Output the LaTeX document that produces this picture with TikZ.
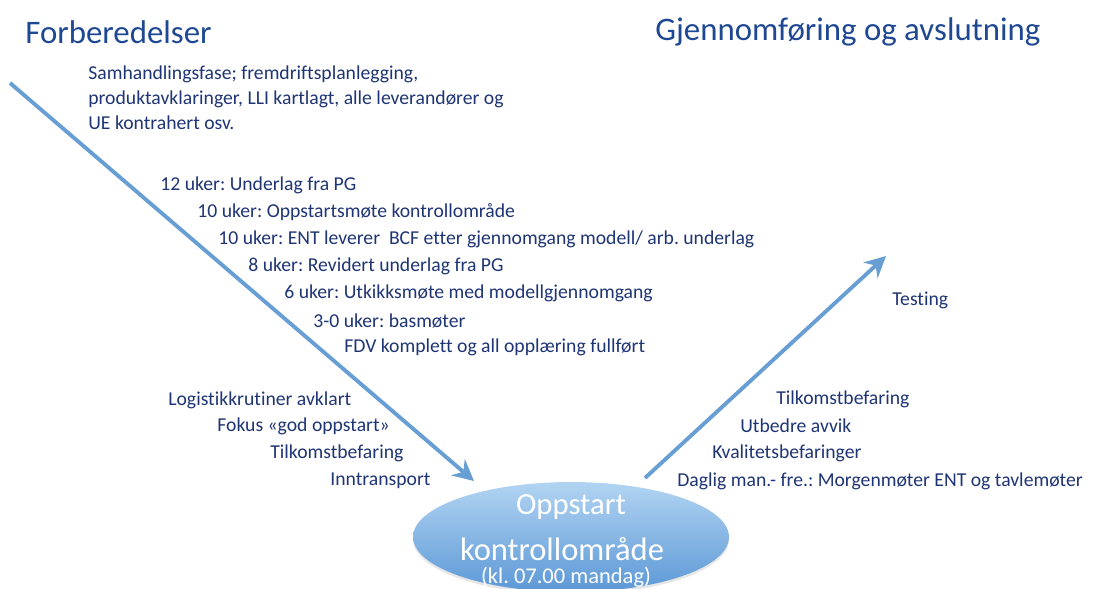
\documentclass[tikz,border=0pt]{standalone}
\usepackage{fontspec}
\setmainfont{Carlito}[Ligatures=NoCommon]
\usetikzlibrary{arrows.meta,positioning,shapes.geometric,shadows}
\definecolor{txtblue}{RGB}{30,52,116}
\definecolor{titleblue}{RGB}{31,72,148}
\definecolor{arrowblue}{RGB}{103,158,211}
\definecolor{ovaltop}{RGB}{178,212,242}
\definecolor{ovalbot}{RGB}{92,152,214}
\tikzset{
  heading/.style={anchor=west,text=titleblue,inner sep=0pt,
    font=\fontsize{18.7}{22}\selectfont},
  item/.style={anchor=west,text=txtblue,inner sep=0pt,
    font=\fontsize{11.2}{14.2}\selectfont},
  flow/.style={line width=2.2pt,draw=arrowblue,
    -{Stealth[length=12pt,width=12pt,inset=4pt]}},
  oval/.style={ellipse,draw=none,top color=ovaltop,bottom color=ovalbot,
    minimum width=6.32cm,minimum height=2.2cm,inner sep=0pt,
    drop shadow={opacity=0.2,shadow xshift=0pt,shadow yshift=-1.5pt}},
  ovaltext/.style={text=white,inner sep=0pt}
}

\begin{document}
\frenchspacing
\begin{tikzpicture}[x=0.02cm,y=-0.02cm]
  \useasboundingbox (0,0) rectangle (1094,588);

  % headings
  \node[heading] (prep) at (25,32) {Forberedelser};
  \node[heading] (exec) at (655,32) {Gjennomføring og avslutning};

  % preparation phase
  \node[item,align=left] (samh) at (88,98)
    {Samhandlingsfase; fremdriftsplanlegging,\\
     produktavklaringer, LLI kartlagt, alle leverandører og\\
     UE kontrahert osv.};
  \foreach \i/\x/\y/\t in {
      1/160/185/{12 uker: Underlag fra PG},
      2/197/212/{10 uker: Oppstartsmøte kontrollområde},
      3/218/239/{10 uker: ENT leverer\ \ BCF etter gjennomgang modell/ arb. underlag},
      4/248/266/{8 uker: Revidert underlag fra PG},
      5/284/293/{6 uker: Utkikksmøte med modellgjennomgang},
      6/313/321/{3-0 uker: basmøter},
      7/344/347/{FDV komplett og all opplæring fullført},
      8/168/400/{Logistikkrutiner avklart},
      9/217/426/{Fokus «god oppstart»},
      10/270/453/{Tilkomstbefaring},
      11/330/481/{Inntransport}}
    \node[item] (pre-\i) at (\x,\y) {\t};

  % execution phase
  \node[item] (test) at (892,300) {Testing};
  \foreach \i/\x/\y/\t in {
      1/776/399/{Tilkomstbefaring},
      2/740/426/{Utbedre avvik},
      3/712/453/{Kvalitetsbefaringer},
      4/677/481/{Daglig man.- fre.: Morgenmøter ENT og tavlemøter}}
    \node[item] (run-\i) at (\x,\y) {\t};

  % start node
  \node[oval] (oppstart) at (571,537) {};
  \node[ovaltext,font=\fontsize{17.5}{20}\selectfont] (opp-1) at (571,507) {Oppstart};
  \node[ovaltext,font=\fontsize{18.5}{20}\selectfont] (opp-2) at (562,549) {kontrollområde};
  \node[ovaltext,font=\fontsize{12.8}{14}\selectfont] (opp-3) at (566,577) {(kl. 07.00 mandag)};

  % arrows
  \coordinate (inStart) at (10,83);
  \coordinate (inEnd) at (474,481);
  \coordinate (outStart) at (645,478);
  \coordinate (outEnd) at (886,256);
  \draw[flow] (inStart) -- (inEnd);
  \draw[flow] (outStart) -- (outEnd);
\end{tikzpicture}
\end{document}
